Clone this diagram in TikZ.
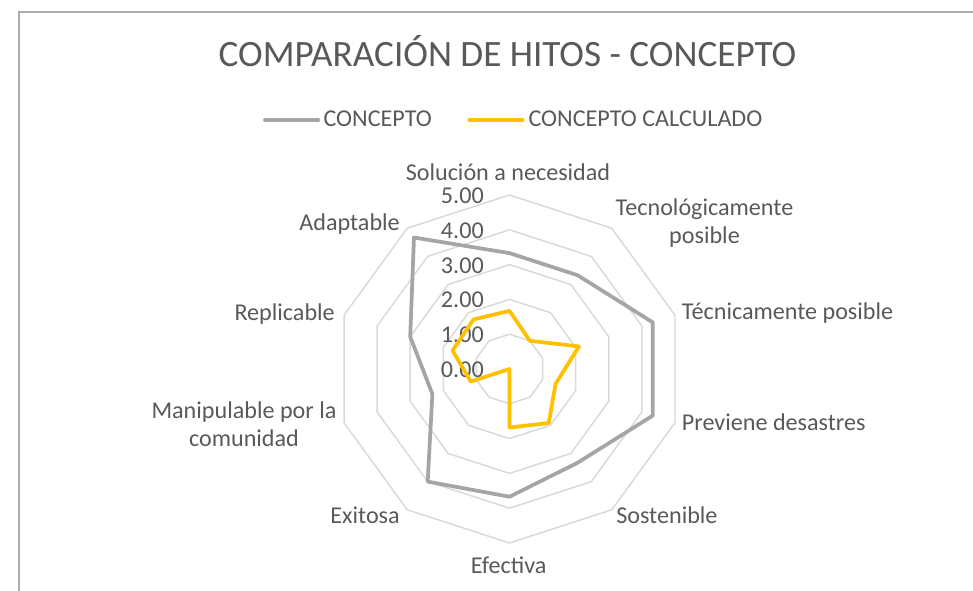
\documentclass[tikz,border=0pt]{standalone}
\usepackage{fontspec}
\setmainfont{Carlito}
\definecolor{txt}{HTML}{595959}
\definecolor{gridc}{HTML}{D9D9D9}
\definecolor{sgray}{HTML}{A5A5A5}
\definecolor{syel}{HTML}{FFC000}
\definecolor{framec}{HTML}{ADADAD}
\begin{document}
\begin{tikzpicture}[x=0.75pt,y=-0.75pt,
  lbl/.style={text=txt,font=\fontsize{18.1}{21.5}\selectfont,inner sep=0pt,anchor=base},
  tick/.style={text=txt,font=\fontsize{18.1}{21.5}\selectfont,inner sep=0pt,anchor=base east},
  ring/.style={draw=gridc,line width=1.1pt,line join=round},
  serg/.style={draw=sgray,line width=2.8pt,line join=round},
  sery/.style={draw=syel,line width=2.8pt,line join=round}]
\useasboundingbox (0,0) rectangle (973,591);
\draw[framec,line width=1.3pt] (19,591) -- (19,12) -- (973,12);
\def\cx{509.5}\def\cy{369}\def\u{34.8}
% title
\node[text=txt,font=\fontsize{27.9}{32}\selectfont,inner sep=0pt,anchor=base] (title) at (507.5,66.7) {COMPARACIÓN DE HITOS - CONCEPTO};
% legend
\coordinate (lg1a) at (265,120); \coordinate (lg1b) at (318.3,120);
\coordinate (lg2a) at (469.3,120); \coordinate (lg2b) at (522.7,120);
\draw[serg,line cap=round] (lg1a) -- (lg1b);
\draw[sery,line cap=round] (lg2a) -- (lg2b);
\node[lbl,anchor=base west] (leg1) at (323.3,126.7) {CONCEPTO};
\node[lbl,anchor=base west] (leg2) at (528.3,126.7) {CONCEPTO CALCULADO};
% rings
\foreach \r in {1,...,5}{
  \draw[ring] (\cx,{\cy-\u*\r}) \foreach \k in {1,...,9}{ -- ({\cx+\u*\r*cos(90-36*\k)},{\cy-\u*\r*sin(90-36*\k)}) } -- cycle;
}
% tick labels
\foreach \r/\t in {0/0.00,1/1.00,2/2.00,3/3.00,4/4.00,5/5.00}{
  \node[tick] (t\r) at (484,{\cy-\u*\r+8.5}) {\t};
}
% series points
\foreach \v [count=\k from 0] in {3.33,3.33,4.33,4.33,3.33,3.67,4.0,2.33,3.0,4.67}{
  \coordinate (g\k) at ({\cx+\u*\v*cos(90-36*\k)},{\cy-\u*\v*sin(90-36*\k)});
}
\foreach \v [count=\k from 0] in {1.67,1.0,2.1,1.39,1.92,1.68,0,1.17,1.72,1.76}{
  \coordinate (y\k) at ({\cx+\u*\v*cos(90-36*\k)},{\cy-\u*\v*sin(90-36*\k)});
}
\draw[serg] (g0) -- (g1) -- (g2) -- (g3) -- (g4) -- (g5) -- (g6) -- (g7) -- (g8) -- (g9) -- cycle;
\draw[sery] (y0) -- (y1) -- (y2) -- (y3) -- (y4) -- (y5) -- (y6) -- (y7) -- (y8) -- (y9) -- cycle;
% axis labels
\node[lbl] (a0) at (508,181) {Solución a necesidad};
\node[lbl] (a1) at (704.5,215.5) {Tecnológicamente};
\node[lbl] (a1b) at (704.5,243.5) {posible};
\node[lbl,anchor=base west] (a2) at (681.7,319.5) {Técnicamente posible};
\node[lbl,anchor=base west] (a3) at (681.7,430.5) {Previene desastres};
\node[lbl,anchor=base west] (a4) at (616,523.5) {Sostenible};
\node[lbl] (a5) at (508.7,573.5) {Efectiva};
\node[lbl,anchor=base east] (a6) at (400,523.5) {Exitosa};
\node[lbl] (a7) at (244,418.5) {Manipulable por la};
\node[lbl] (a7b) at (244,446.5) {comunidad};
\node[lbl,anchor=base east] (a8) at (335,320.5) {Replicable};
\node[lbl,anchor=base east] (a9) at (400,230.5) {Adaptable};
\end{tikzpicture}
\end{document}
